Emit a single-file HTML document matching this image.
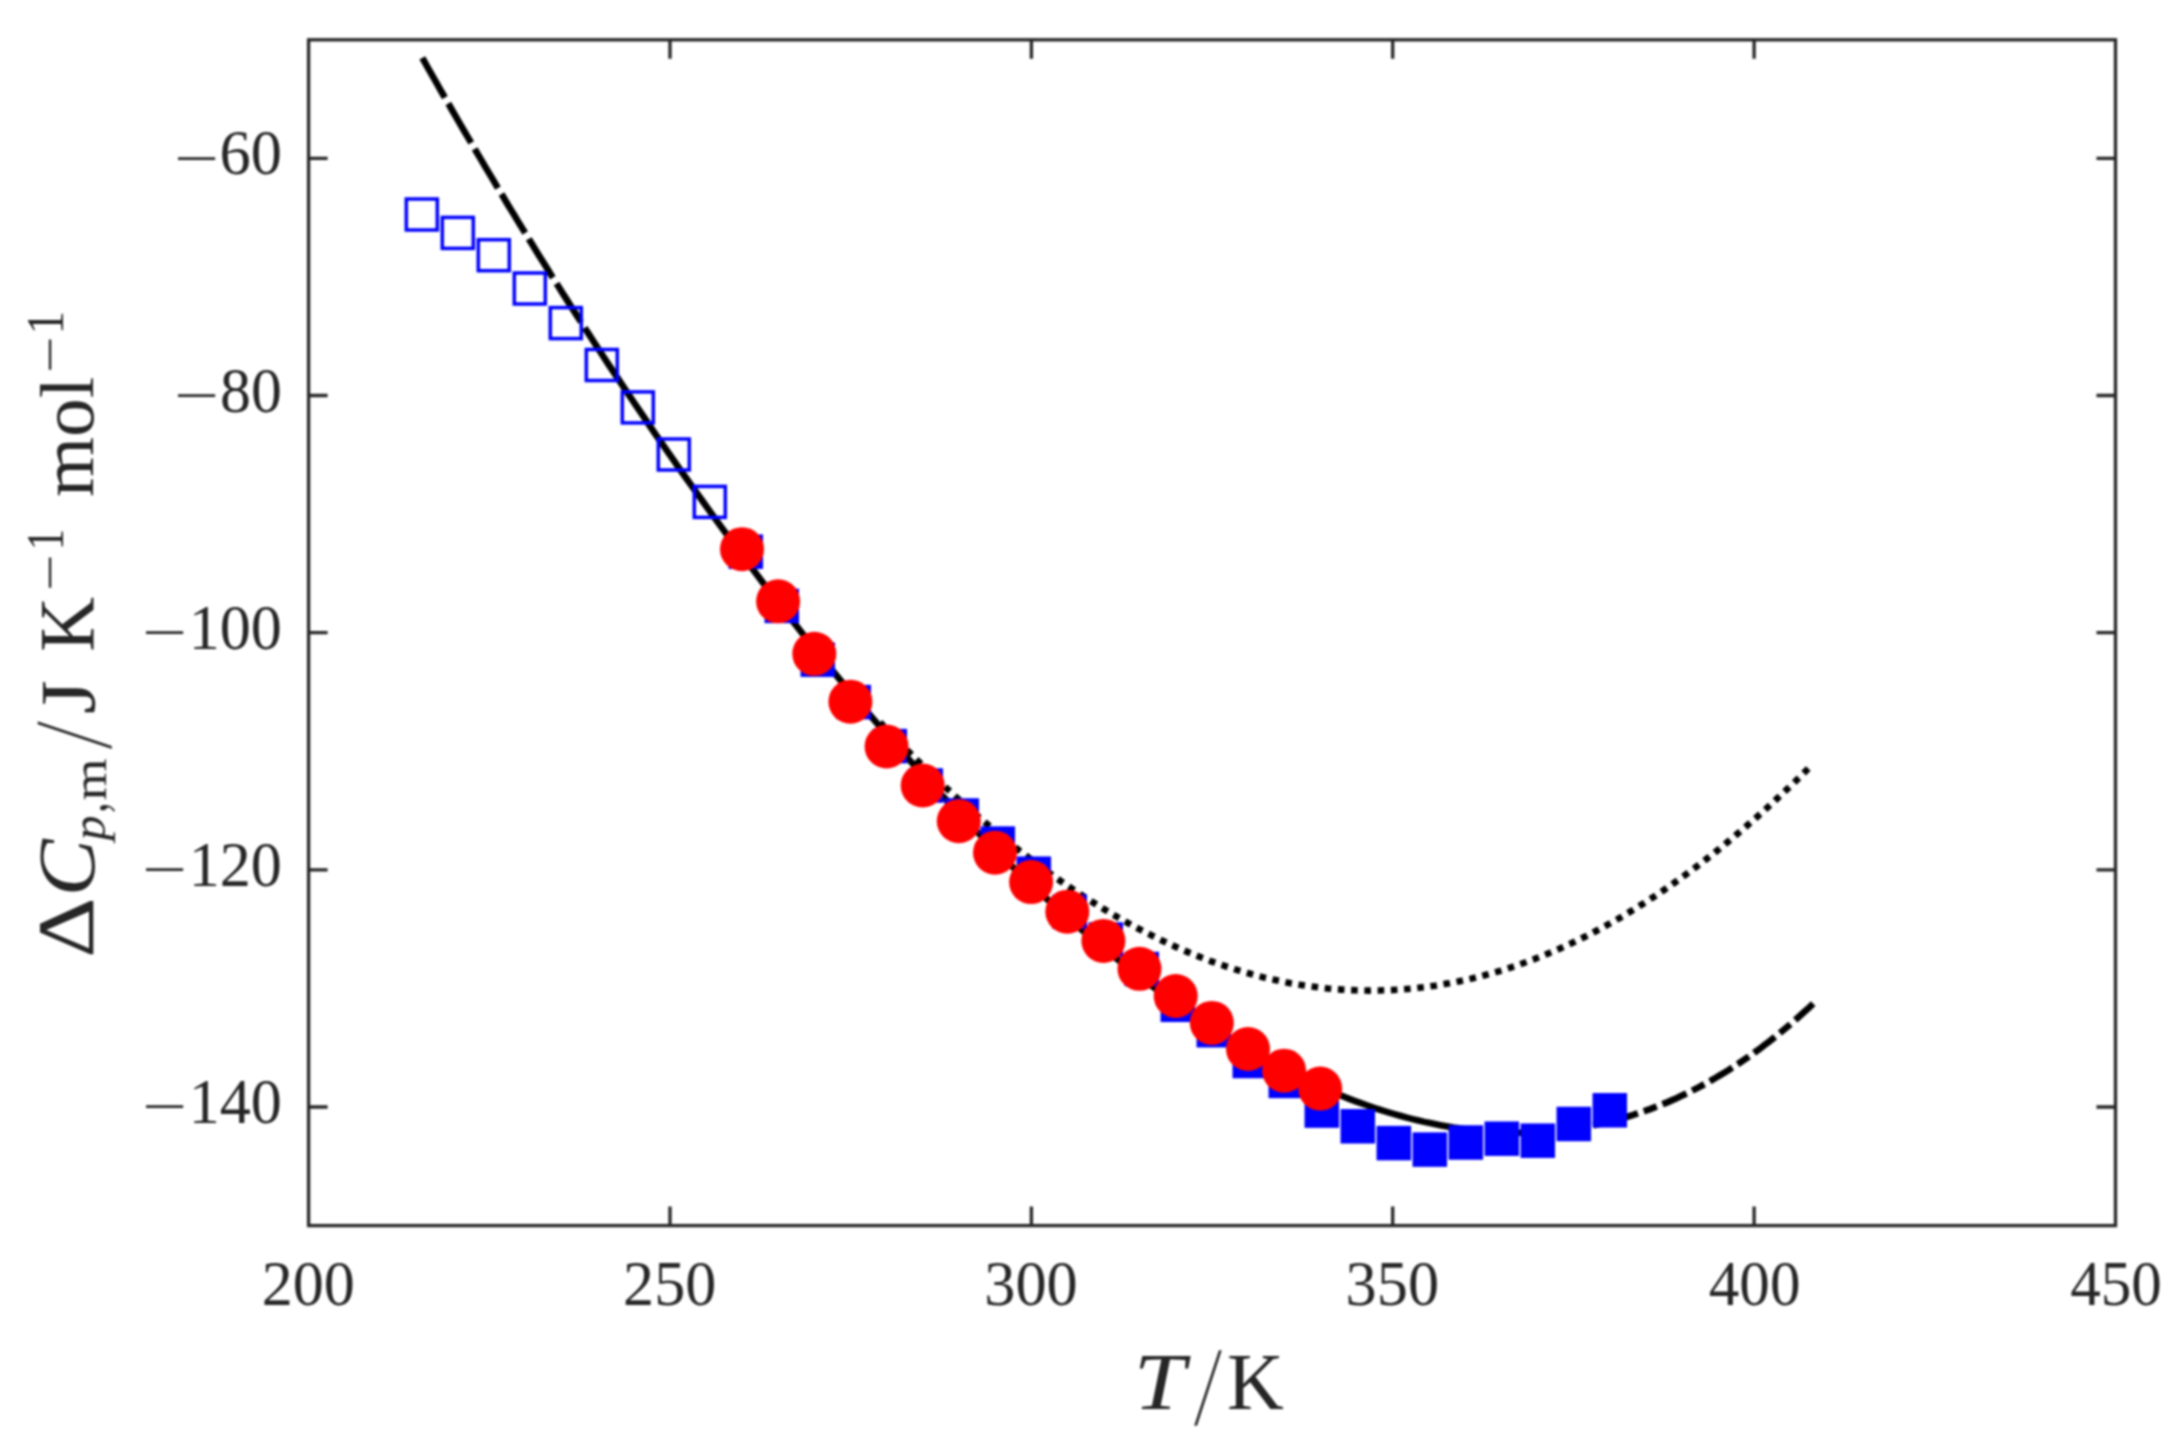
<!DOCTYPE html>
<html><head><meta charset="utf-8"><title>Heat capacity plot</title>
<style>html,body{margin:0;padding:0;background:#fff}svg{display:block;filter:blur(0.85px)}text{font-family:"Liberation Serif",serif;fill:#262626}</style></head><body>
<svg width="2182" height="1454" viewBox="0 0 2182 1454">
<rect x="0" y="0" width="2182" height="1454" fill="#fff"/>
<g fill="none" stroke="#000" stroke-width="6.6">
<path d="M422.3,57.9 L425.3,63.2 L428.2,68.5 L431.2,73.7 L434.2,78.9 L437.2,84.1 L440.1,89.3 L443.1,94.5 L446.1,99.7 L449.1,104.9 L452.0,110.0 L455.0,115.2 L458.0,120.3 L460.9,125.4 L463.9,130.5 L466.9,135.6 L469.9,140.7 L472.8,145.8 L475.8,150.8 L478.8,155.9 L481.8,160.9 L484.7,165.9 L487.7,170.9 L490.7,175.9 L493.7,180.9 L496.6,185.9 L499.6,190.9 L502.6,195.8 L505.5,200.7 L508.5,205.7 L511.5,210.6 L514.5,215.5 L517.4,220.4 L520.4,225.2 L523.4,230.1 L526.4,235.0 L529.3,239.8 L532.3,244.6 L535.3,249.4 L538.2,254.2 L541.2,259.0 L544.2,263.8 L547.2,268.6 L550.1,273.3 L553.1,278.1 L556.1,282.8 L559.1,287.5 L562.0,292.2 L565.0,296.9 L568.0,301.6 L570.9,306.3 L573.9,310.9 L576.9,315.6 L579.9,320.2 L582.8,324.9 L585.8,329.5 L588.8,334.1 L591.8,338.7 L594.7,343.2 L597.7,347.8" stroke-dasharray="45.6 6.9"/>
<path d="M597.7,347.8 L603.5,356.7 L609.3,365.6 L615.2,374.4 L621.0,383.1 L626.8,391.8 L632.6,400.5 L638.5,409.1 L644.3,417.7 L650.1,426.3 L655.9,434.8 L661.7,443.2 L667.6,451.6 L673.4,459.9 L679.2,468.3 L685.0,476.5 L690.8,484.7 L696.7,492.9 L702.5,501.0 L708.3,509.1 L714.1,517.1 L719.9,525.1 L725.8,533.1 L731.6,541.0 L737.4,548.8 L743.2,556.6 L749.0,564.4 L754.9,572.1 L760.7,579.8 L766.5,587.4 L772.3,595.0 L778.2,602.5 L784.0,610.0 L789.8,617.4 L795.6,624.8 L801.4,632.2 L807.3,639.5 L813.1,646.7 L818.9,653.9 L824.7,661.1 L830.5,668.2 L836.4,675.3 L842.2,682.3 L848.0,689.3 L853.8,696.2 L859.6,703.1 L865.5,709.9 L871.3,716.7 L877.1,723.4 L882.9,730.1 L888.7,736.8 L894.6,743.4 L900.4,749.9 L906.2,756.4 L912.0,762.9 L917.9,769.3 L923.7,775.7 L929.5,782.0 L935.3,788.2 L941.1,794.5 L947.0,800.6 L952.8,806.8 L958.6,812.8 L964.4,818.9 L970.2,824.8 L976.1,830.8 L981.9,836.6 L987.7,842.5 L993.5,848.3 L999.3,854.0 L1005.2,859.7 L1011.0,865.3 L1016.8,870.9 L1022.6,876.4 L1028.4,881.9 L1034.3,887.3 L1040.1,892.7 L1045.9,898.0 L1051.7,903.3 L1057.6,908.6 L1063.4,913.7 L1069.2,918.9 L1075.0,923.9 L1080.8,928.9 L1086.7,933.9 L1092.5,938.8 L1098.3,943.7 L1104.1,948.5 L1109.9,953.3 L1115.8,958.0 L1121.6,962.6 L1127.4,967.2 L1133.2,971.7 L1139.0,976.2 L1144.9,980.7 L1150.7,985.0 L1156.5,989.4 L1162.3,993.6 L1168.2,997.8 L1174.0,1002.0 L1179.8,1006.1 L1185.6,1010.1 L1191.4,1014.1 L1197.3,1018.0 L1203.1,1021.9 L1208.9,1025.7 L1214.7,1029.4 L1220.5,1033.1 L1226.4,1036.8 L1232.2,1040.3 L1238.0,1043.8 L1243.8,1047.3 L1249.6,1050.7 L1255.5,1054.0 L1261.3,1057.3 L1267.1,1060.5 L1272.9,1063.6 L1278.7,1066.7 L1284.6,1069.7 L1290.4,1072.7 L1296.2,1075.5 L1302.0,1078.4 L1307.9,1081.1 L1313.7,1083.8 L1319.5,1086.4 L1325.3,1089.0 L1331.1,1091.5 L1337.0,1093.9 L1342.8,1096.3 L1348.6,1098.6 L1354.4,1100.8 L1360.2,1102.9 L1366.1,1105.0 L1371.9,1107.0 L1377.7,1109.0 L1383.5,1110.8 L1389.3,1112.6 L1395.2,1114.3 L1401.0,1116.0 L1406.8,1117.6 L1412.6,1119.1 L1418.4,1120.5 L1424.3,1121.9 L1430.1,1123.1 L1435.9,1124.3 L1441.7,1125.4 L1447.6,1126.5 L1453.4,1127.5 L1459.2,1128.3 L1465.0,1129.2"/>
<path d="M1813.2,1003.7 L1808.8,1007.8 L1804.4,1011.8 L1800.0,1015.8 L1795.6,1019.7 L1791.2,1023.5 L1786.8,1027.3 L1782.3,1031.0 L1777.9,1034.6 L1773.5,1038.1 L1769.1,1041.6 L1764.7,1044.9 L1760.3,1048.3 L1755.9,1051.5 L1751.5,1054.7 L1747.1,1057.8 L1742.7,1060.8 L1738.3,1063.8 L1733.9,1066.6 L1729.5,1069.5 L1725.1,1072.2 L1720.6,1074.9 L1716.2,1077.5 L1711.8,1080.1 L1707.4,1082.6 L1703.0,1085.0 L1698.6,1087.4 L1694.2,1089.6 L1689.8,1091.9 L1685.4,1094.0 L1681.0,1096.1 L1676.6,1098.2 L1672.2,1100.1 L1667.8,1102.1 L1663.3,1103.9 L1658.9,1105.7 L1654.5,1107.4 L1650.1,1109.1 L1645.7,1110.7 L1641.3,1112.2 L1636.9,1113.7 L1632.5,1115.2 L1628.1,1116.5 L1623.7,1117.8 L1619.3,1119.1 L1614.9,1120.3 L1610.5,1121.4 L1606.1,1122.5 L1601.6,1123.5 L1597.2,1124.5 L1592.8,1125.4 L1588.4,1126.3 L1584.0,1127.1 L1579.6,1127.8 L1575.2,1128.5 L1570.8,1129.1 L1566.4,1129.7 L1562.0,1130.3 L1557.6,1130.7 L1553.2,1131.2 L1548.8,1131.5 L1544.3,1131.9 L1539.9,1132.1 L1535.5,1132.3 L1531.1,1132.5 L1526.7,1132.6 L1522.3,1132.7 L1517.9,1132.7 L1513.5,1132.7 L1509.1,1132.6 L1504.7,1132.5 L1500.3,1132.3 L1495.9,1132.1 L1491.5,1131.8 L1487.1,1131.5 L1482.6,1131.1 L1478.2,1130.7 L1473.8,1130.2 L1469.4,1129.7 L1465.0,1129.2" stroke-dasharray="26.4 6.2 13.8 6.2" stroke-dashoffset="2"/>
<path d="M1808.3,768.5 L1803.6,773.2 L1799.0,777.8 L1794.3,782.3 L1789.6,786.8 L1785.0,791.2 L1780.3,795.6 L1775.6,800.0 L1771.0,804.3 L1766.3,808.6 L1761.7,812.8 L1757.0,816.9 L1752.3,821.1 L1747.7,825.1 L1743.0,829.2 L1738.3,833.1 L1733.7,837.1 L1729.0,840.9 L1724.3,844.8 L1719.7,848.6 L1715.0,852.3 L1710.3,856.0 L1705.7,859.6 L1701.0,863.2 L1696.3,866.8 L1691.7,870.2 L1687.0,873.7 L1682.3,877.1 L1677.7,880.4 L1673.0,883.7 L1668.4,887.0 L1663.7,890.2 L1659.0,893.3 L1654.4,896.4 L1649.7,899.5 L1645.0,902.5 L1640.4,905.4 L1635.7,908.4 L1631.0,911.2 L1626.4,914.0 L1621.7,916.8 L1617.0,919.5 L1612.4,922.1 L1607.7,924.7 L1603.0,927.3 L1598.4,929.8 L1593.7,932.2 L1589.1,934.7 L1584.4,937.0 L1579.7,939.3 L1575.1,941.6 L1570.4,943.8 L1565.7,945.9 L1561.1,948.0 L1556.4,950.1 L1551.7,952.1 L1547.1,954.0 L1542.4,955.9 L1537.7,957.8 L1533.1,959.6 L1528.4,961.3 L1523.7,963.0 L1519.1,964.7 L1514.4,966.3 L1509.8,967.8 L1505.1,969.3 L1500.4,970.8 L1495.8,972.2 L1491.1,973.5 L1486.4,974.8 L1481.8,976.0 L1477.1,977.2 L1472.4,978.4 L1467.8,979.5 L1463.1,980.5 L1458.4,981.5 L1453.8,982.4 L1449.1,983.3 L1444.4,984.1 L1439.8,984.9 L1435.1,985.7 L1430.4,986.3 L1425.8,987.0 L1421.1,987.5 L1416.5,988.1 L1411.8,988.6 L1407.1,989.0 L1402.5,989.4 L1397.8,989.7 L1393.1,990.0 L1388.5,990.2 L1383.8,990.3 L1379.1,990.5 L1374.5,990.5 L1369.8,990.6 L1365.1,990.5 L1360.5,990.4 L1355.8,990.3 L1351.1,990.1 L1346.5,989.9 L1341.8,989.6 L1337.2,989.3 L1332.5,988.9 L1327.8,988.5 L1323.2,988.0 L1318.5,987.4 L1313.8,986.8 L1309.2,986.2 L1304.5,985.5 L1299.8,984.8 L1295.2,984.0 L1290.5,983.2 L1285.8,982.3 L1281.2,981.3 L1276.5,980.3 L1271.8,979.3 L1267.2,978.2 L1262.5,977.1 L1257.9,975.9 L1253.2,974.6 L1248.5,973.3 L1243.9,972.0 L1239.2,970.6 L1234.5,969.2 L1229.9,967.7 L1225.2,966.2 L1220.5,964.6 L1215.9,962.9 L1211.2,961.3 L1206.5,959.5 L1201.9,957.7 L1197.2,955.9 L1192.5,954.0 L1187.9,952.1 L1183.2,950.1 L1178.5,948.1 L1173.9,946.0 L1169.2,943.9 L1164.6,941.7 L1159.9,939.5 L1155.2,937.2 L1150.6,934.9 L1145.9,932.6 L1141.2,930.1 L1136.6,927.7 L1131.9,925.2 L1127.2,922.6 L1122.6,920.0 L1117.9,917.4 L1113.2,914.7 L1108.6,911.9 L1103.9,909.1 L1099.2,906.3 L1094.6,903.4 L1089.9,900.5 L1085.3,897.5 L1080.6,894.5 L1075.9,891.4 L1071.3,888.3 L1066.6,885.1 L1061.9,881.9 L1057.3,878.7 L1052.6,875.3 L1047.9,872.0 L1043.3,868.6 L1038.6,865.2 L1033.9,861.7 L1029.3,858.2 L1024.6,854.6 L1019.9,851.0 L1015.3,847.3 L1010.6,843.6 L1006.0,839.8 L1001.3,836.0 L996.6,832.2 L992.0,828.3 L987.3,824.4 L982.6,820.4 L978.0,816.4 L973.3,812.3 L968.6,808.2 L964.0,804.1 L959.3,799.9 L954.6,795.7 L950.0,791.4 L945.3,787.1 L940.6,782.7 L936.0,778.3 L931.3,773.9 L926.6,769.4 L922.0,764.9 L917.3,760.3 L912.7,755.7 L908.0,751.0 L903.3,746.3 L898.7,741.6 L894.0,736.8 L889.3,732.0 L884.7,727.2 L880.0,722.3" stroke-dasharray="6.6 6.65"/>
</g>
<g stroke="#00f" stroke-width="3.5">
<rect x="406.3" y="199.0" width="31.0" height="31.0" fill="none"/>
<rect x="442.3" y="217.4" width="31.0" height="31.0" fill="none"/>
<rect x="478.3" y="239.7" width="31.0" height="31.0" fill="none"/>
<rect x="514.3" y="273.0" width="31.0" height="31.0" fill="none"/>
<rect x="550.3" y="307.6" width="31.0" height="31.0" fill="none"/>
<rect x="586.3" y="349.5" width="31.0" height="31.0" fill="none"/>
<rect x="622.3" y="391.9" width="31.0" height="31.0" fill="none"/>
<rect x="658.3" y="439.0" width="31.0" height="31.0" fill="none"/>
<rect x="694.3" y="486.4" width="31.0" height="31.0" fill="none"/>
<rect x="730.3" y="536.2" width="31.0" height="31.0" fill="#00f"/>
<rect x="766.3" y="590.4" width="31.0" height="31.0" fill="#00f"/>
<rect x="802.3" y="644.2" width="31.0" height="31.0" fill="#00f"/>
<rect x="838.3" y="686.6" width="31.0" height="31.0" fill="#00f"/>
<rect x="874.3" y="730.6" width="31.0" height="31.0" fill="#00f"/>
<rect x="910.3" y="770.0" width="31.0" height="31.0" fill="#00f"/>
<rect x="946.3" y="800.0" width="31.0" height="31.0" fill="#00f"/>
<rect x="982.3" y="828.1" width="31.0" height="31.0" fill="#00f"/>
<rect x="1018.3" y="858.2" width="31.0" height="31.0" fill="#00f"/>
<rect x="1054.3" y="896.3" width="31.0" height="31.0" fill="#00f"/>
<rect x="1090.3" y="924.0" width="31.0" height="31.0" fill="#00f"/>
<rect x="1126.3" y="953.5" width="31.0" height="31.0" fill="#00f"/>
<rect x="1162.3" y="989.3" width="31.0" height="31.0" fill="#00f"/>
<rect x="1198.3" y="1014.7" width="31.0" height="31.0" fill="#00f"/>
<rect x="1234.3" y="1045.5" width="31.0" height="31.0" fill="#00f"/>
<rect x="1270.3" y="1065.4" width="31.0" height="31.0" fill="#00f"/>
<rect x="1306.3" y="1095.1" width="31.0" height="31.0" fill="#00f"/>
<rect x="1342.3" y="1110.8" width="31.0" height="31.0" fill="#00f"/>
<rect x="1378.3" y="1127.6" width="31.0" height="31.0" fill="#00f"/>
<rect x="1414.3" y="1134.1" width="31.0" height="31.0" fill="#00f"/>
<rect x="1450.3" y="1127.0" width="31.0" height="31.0" fill="#00f"/>
<rect x="1486.3" y="1123.2" width="31.0" height="31.0" fill="#00f"/>
<rect x="1522.3" y="1125.2" width="31.0" height="31.0" fill="#00f"/>
<rect x="1558.3" y="1108.5" width="31.0" height="31.0" fill="#00f"/>
<rect x="1594.3" y="1094.8" width="31.0" height="31.0" fill="#00f"/>
</g>
<g fill="#f00">
<circle cx="742.0" cy="549.2" r="22"/>
<circle cx="778.1" cy="601.3" r="22"/>
<circle cx="814.3" cy="653.8" r="22"/>
<circle cx="850.4" cy="701.7" r="22"/>
<circle cx="886.6" cy="746.5" r="22"/>
<circle cx="922.7" cy="785.5" r="22"/>
<circle cx="958.8" cy="821.2" r="22"/>
<circle cx="995.0" cy="852.7" r="22"/>
<circle cx="1031.1" cy="882.1" r="22"/>
<circle cx="1067.3" cy="911.7" r="22"/>
<circle cx="1103.4" cy="940.9" r="22"/>
<circle cx="1139.5" cy="968.8" r="22"/>
<circle cx="1175.7" cy="996.0" r="22"/>
<circle cx="1211.8" cy="1022.9" r="22"/>
<circle cx="1248.0" cy="1049.0" r="22"/>
<circle cx="1284.1" cy="1070.7" r="22"/>
<circle cx="1320.2" cy="1088.6" r="22"/>
</g>
<g fill="none" stroke="#262626" stroke-width="3.3">
<rect x="308.6" y="39.8" width="1806.9" height="1185.8"/>
<path d="M670.0,1225.6V1206.6M670.0,39.8V58.8M1031.4,1225.6V1206.6M1031.4,39.8V58.8M1392.7,1225.6V1206.6M1392.7,39.8V58.8M1754.1,1225.6V1206.6M1754.1,39.8V58.8M308.6,158.4H327.6M2115.5,158.4H2096.5M308.6,395.5H327.6M2115.5,395.5H2096.5M308.6,632.7H327.6M2115.5,632.7H2096.5M308.6,869.9H327.6M2115.5,869.9H2096.5M308.6,1107.0H327.6M2115.5,1107.0H2096.5"/>
</g>
<text transform="translate(261.74,1305.28) scale(1.0023,1.0310)" font-size="62">200</text>
<text transform="translate(623.12,1305.28) scale(1.0023,1.0310)" font-size="62">250</text>
<text transform="translate(984.24,1305.28) scale(1.0051,1.0310)" font-size="62">300</text>
<text transform="translate(1345.62,1305.28) scale(1.0051,1.0310)" font-size="62">350</text>
<text transform="translate(1708.79,1305.28) scale(0.9855,1.0310)" font-size="62">400</text>
<text transform="translate(2070.17,1305.28) scale(0.9855,1.0310)" font-size="62">450</text>
<text transform="translate(219.53,174.36) scale(1.0070,1.0310)" font-size="62">60</text>
<text transform="translate(174.02,177.51) scale(1.2870,0.9333)" font-size="62">−</text>
<text transform="translate(220.05,411.52) scale(0.9983,1.0310)" font-size="62">80</text>
<text transform="translate(174.02,414.67) scale(1.2870,0.9333)" font-size="62">−</text>
<text transform="translate(188.68,648.68) scale(1.0029,1.0310)" font-size="62">100</text>
<text transform="translate(142.02,651.83) scale(1.2870,0.9333)" font-size="62">−</text>
<text transform="translate(188.68,885.84) scale(1.0029,1.0310)" font-size="62">120</text>
<text transform="translate(142.02,888.99) scale(1.2870,0.9333)" font-size="62">−</text>
<text transform="translate(188.68,1123.00) scale(1.0029,1.0310)" font-size="62">140</text>
<text transform="translate(142.02,1126.15) scale(1.2870,0.9333)" font-size="62">−</text>
<text transform="translate(1133.75,1408.80) scale(1.1723,1.0203)" font-size="79" font-style="italic">T</text>
<text transform="translate(1192.60,1426.20) scale(1.4091,1.4635)" font-size="79" stroke="#fff" stroke-width="1.6">/</text>
<text transform="translate(1227.06,1408.80) scale(0.9963,1.0203)" font-size="79">K</text>
<g transform="translate(92.5,954.7) rotate(-90)">
<text transform="translate(-2.95,0.30) scale(1.1844,1.0124)" font-size="79">Δ</text>
<text transform="translate(58.33,1.63) scale(1.0816,1.0226)" font-size="79" font-style="italic">C</text>
<text transform="translate(114.27,12.55) scale(0.9138,0.8636)" font-size="55" font-style="italic">p</text>
<text transform="translate(142.00,13.92) scale(0.7515,1.0643)" font-size="55">,</text>
<text transform="translate(154.27,13.02) scale(0.9816,0.8816)" font-size="55">m</text>
<text transform="translate(204.30,19.51) scale(1.4045,1.4521)" font-size="79" stroke="#fff" stroke-width="1.6">/</text>
<text transform="translate(240.67,1.65) scale(1.1046,0.9981)" font-size="79">J</text>
<text transform="translate(303.04,0.50) scale(0.9611,0.9874)" font-size="79">K</text>
<text transform="translate(363.45,-26.76) scale(1.1804,0.8727)" font-size="55">−</text>
<text transform="translate(404.40,-29.40) scale(0.7795,0.9490)" font-size="55">1</text>
<text transform="translate(457.69,0.97) scale(0.9774,0.9676)" font-size="79">mol</text>
<text transform="translate(581.35,-26.76) scale(1.1804,0.8727)" font-size="55">−</text>
<text transform="translate(620.31,-29.40) scale(0.8615,0.9490)" font-size="55">1</text>
</g>
</svg></body></html>
